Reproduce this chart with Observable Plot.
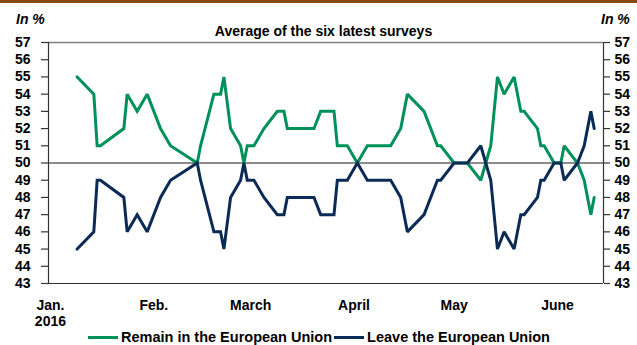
<!DOCTYPE html>
<html>
<head>
<meta charset="utf-8">
<script src="https://cdn.jsdelivr.net/npm/d3@7"></script>
<script src="https://cdn.jsdelivr.net/npm/@observablehq/plot@0.6"></script>
<style>
  html, body { margin: 0; padding: 0; background: #fff; }
  #wrap { position: relative; width: 637px; height: 345px; overflow: hidden; font-family: "Liberation Sans", Arial, sans-serif; font-weight: bold; color: #000; }
  #bar { position: absolute; left: 0; top: 0; width: 637px; height: 3px; background: #8A4A14; }
  .txt { position: absolute; font-size: 14px; line-height: 14px; white-space: nowrap; }
  #chart { position: absolute; left: 0; top: 0; }
  #legend { position: absolute; left: 88px; top: 330px; display: flex; align-items: center; font-size: 14.5px; line-height: 15px; white-space: nowrap; }
  .sw { display: inline-block; width: 30px; height: 3px; margin-right: 3px; }
</style>
</head>
<body>
<div id="wrap">
  <div id="bar"></div>
  <div id="chart"></div>
  <div class="txt" style="left:16px; top:11.5px; font-style:italic;">In %</div>
  <div class="txt" style="left:601px; top:11.5px; font-style:italic;">In %</div>
  <div class="txt" style="left:323.5px; top:24px; transform:translateX(-50%);">Average of the six latest surveys</div>
  <div id="legend"></div>
</div>
<script>
const dates = ["2016-01-09","2016-01-14","2016-01-15","2016-01-16","2016-01-23","2016-01-24","2016-01-27","2016-01-30",
  "2016-02-03","2016-02-06","2016-02-14","2016-02-15","2016-02-19","2016-02-21","2016-02-22","2016-02-24","2016-02-27","2016-02-28","2016-02-29",
  "2016-03-02","2016-03-05","2016-03-09","2016-03-11","2016-03-12","2016-03-20","2016-03-22","2016-03-26","2016-03-27","2016-03-30",
  "2016-04-02","2016-04-05","2016-04-12","2016-04-15","2016-04-17","2016-04-22","2016-04-26","2016-04-27",
  "2016-05-01","2016-05-05","2016-05-09","2016-05-12","2016-05-14","2016-05-16","2016-05-19","2016-05-21","2016-05-22","2016-05-26","2016-05-27","2016-05-28","2016-05-31",
  "2016-06-02","2016-06-03","2016-06-07","2016-06-09","2016-06-11","2016-06-12"];
const remain = [55,54,51,51,52,54,53,54,
  52,51,50,51,54,54,55,52,51,50,51,
  51,52,53,53,52,52,53,53,51,51,
  50,51,51,52,54,53,51,51,
  50,50,49,51,55,54,55,53,53,52,51,51,50,
  50,51,50,49,47,48];
const leave = [45,46,49,49,48,46,47,46,
  48,49,50,49,46,46,45,48,49,50,49,
  49,48,47,47,48,48,47,47,49,49,
  50,49,49,48,46,47,49,49,
  50,50,51,49,45,46,45,47,47,48,49,49,50,
  50,49,50,51,53,52];
const seriesNames = ["Remain in the European Union", "Leave the European Union"];
const seriesColors = ["#00915A", "#0B2A55"];
const yTicks = [43,44,45,46,47,48,49,50,51,52,53,54,55,56,57];
const monthTicks = ["2016-01-01","2016-02-01","2016-03-01","2016-04-01","2016-05-01","2016-06-01"];
const monthLabels = ["Jan.\n2016","Feb.","March","April","May","June"];

const rows = [];
dates.forEach((d, i) => {
  rows.push({date: new Date(d), value: remain[i], series: seriesNames[0]});
  rows.push({date: new Date(d), value: leave[i], series: seriesNames[1]});
});
const mTicks = monthTicks.map(d => new Date(d));
const labelFor = d => monthLabels[mTicks.findIndex(t => +t === +d)];
const xDomain = [new Date(Date.UTC(2015, 11, 31, 10)), new Date(Date.UTC(2016, 5, 14, 19))];

const chart = Plot.plot({
  width: 637, height: 325,
  marginTop: 42, marginBottom: 42, marginLeft: 48, marginRight: 34,
  style: {fontFamily: '"Liberation Sans", Arial, sans-serif', fontSize: "14px", fontWeight: "bold", color: "#000", background: "transparent", overflow: "visible"},
  x: {type: "utc", domain: xDomain},
  y: {domain: [43, 57]},
  color: {domain: seriesNames, range: seriesColors},
  marks: [
    Plot.ruleY([57], {stroke: "#808080", strokeWidth: 1.5}),
    Plot.ruleY([43], {stroke: "#333", strokeWidth: 1.2}),
    Plot.ruleY([50], {stroke: "#666", strokeWidth: 1.5}),
    Plot.axisY({anchor: "left", ticks: yTicks, tickSize: 7, tickPadding: 11, tickFormat: d => String(d), stroke: "#333", strokeWidth: 1.2, label: null}),
    Plot.axisY({anchor: "right", ticks: yTicks, tickSize: 6, tickPadding: 5, tickFormat: d => String(d), stroke: "#333", strokeWidth: 1.2, label: null}),
    Plot.ruleX([xDomain[0], xDomain[1]], {stroke: "#333", strokeWidth: 1.2}),
    Plot.axisX({ticks: mTicks, tickSize: 0, tickPadding: 16, tickFormat: labelFor, lineHeight: 1.1, label: null}),
    Plot.line(rows, {x: "date", y: "value", z: "series", stroke: "series", strokeWidth: 3, strokeLinejoin: "miter", strokeMiterlimit: 2})
  ]
});
document.getElementById("chart").appendChild(chart);

const legend = document.getElementById("legend");
seriesNames.forEach((name, i) => {
  const sw = document.createElement("span");
  sw.className = "sw";
  sw.style.background = seriesColors[i];
  if (i > 0) sw.style.marginLeft = "2px";
  legend.appendChild(sw);
  const t = document.createElement("span");
  t.textContent = name;
  legend.appendChild(t);
});
</script>
</body>
</html>
